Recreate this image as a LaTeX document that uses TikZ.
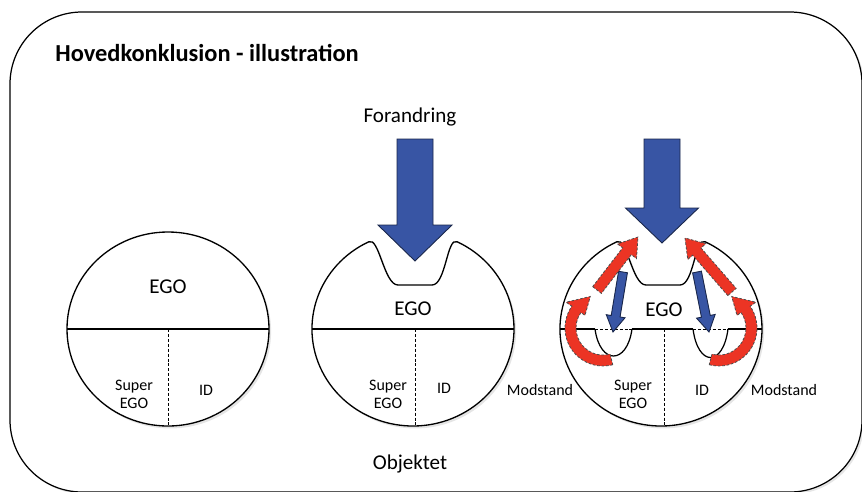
\documentclass[tikz,border=0pt]{standalone}
\usepackage{fontspec}
\setmainfont{Carlito}
\usepackage{xcolor}
\usetikzlibrary{calc,shadows}
\definecolor{forceblue}{RGB}{56,85,164}
\definecolor{resistred}{RGB}{236,52,36}
% block arrow: style, tail, tip, half shaft, half head, head length
\newcommand{\blockarrow}[6]{%
  \coordinate (ah) at ($(#3)!#6!(#2)$);
  \draw[#1] ($(#2)!#4!90:(#3)$) -- ($(ah)!#4!90:(#3)$) -- ($(ah)!#5!90:(#3)$) -- (#3)
    -- ($(ah)!#5!-90:(#3)$) -- ($(ah)!#4!-90:(#3)$) -- ($(#2)!#4!-90:(#3)$) -- cycle;}
\tikzset{
  frame/.style={draw, line width=0.7pt, rounded corners=1.44cm, fill=white, drop shadow={shadow xshift=1.2pt, shadow yshift=-1.2pt, opacity=0.2}},
  psyche/.style={draw, line width=0.75pt, fill=white, drop shadow={shadow xshift=1.2pt, shadow yshift=-1.4pt, opacity=0.2}},
  divide/.style={line width=0.85pt},
  split/.style={dash pattern=on 1.7pt off 1.1pt, line width=0.55pt},
  dent/.style={line width=0.7pt},
  force/.style={fill=forceblue, draw=forceblue!45!black, line width=0.5pt},
  resist/.style={fill=resistred, draw=black!70, dash pattern=on 1.5pt off 1pt, line width=0.45pt},
  title/.style={font=\fontsize{13.9pt}{16pt}\selectfont\bfseries, anchor=base west, inner sep=0pt},
  bigtext/.style={font=\fontsize{12pt}{14pt}\selectfont, anchor=base, inner sep=0pt},
  smalltext/.style={font=\fontsize{9.1pt}{10.25pt}\selectfont, anchor=base, inner sep=0pt}
}
\begin{document}
\begin{tikzpicture}[x=0.02cm,y=0.02cm]
  \useasboundingbox (0,0) rectangle (862,-491);
  \draw[frame] (10,-12) rectangle (862,-492);

  % plain psyche
  \draw[psyche] (168,-329) ellipse[x radius=101, y radius=97];
  \draw[divide] (67,-329) -- (269,-329);
  \draw[split] (168,-329) -- (168,-426);

  % psyche pressed by change
  \foreach \cx in {413,661}{
    \draw[psyche] (\cx-44.3,-241.8) arc[start angle=116, end angle=424, x radius=101, y radius=97]
      .. controls (\cx+34,-236) and (\cx+33,-285) .. (\cx+19,-285) -- (\cx-15,-285)
      .. controls (\cx-29,-285) and (\cx-34,-236) .. (\cx-44.3,-241.8) -- cycle;
  }
  \draw[divide] (312,-329) -- (514,-329);
  \draw[split] (415,-329) -- (415,-426);

  \draw[divide] (560,-329) -- (595,-329);
  \draw[split] (595,-329) -- (632,-329);
  \draw[divide] (632,-329) -- (693,-329);
  \draw[split] (693,-329) -- (728,-329);
  \draw[divide] (728,-329) -- (762,-329);
  \draw[split] (664,-329) -- (664,-426);
  \draw[dent] (595,-329) .. controls (600,-365) and (627,-365) .. (632,-329);
  \draw[dent] (693,-329) .. controls (698,-367) and (723,-367) .. (728,-329);

  % arrows
  \coordinate (lbtail) at (623,-272);
  \coordinate (lbtip) at (613,-332);
  \coordinate (rbtail) at (697,-272);
  \coordinate (rbtip) at (709,-332);
  \blockarrow{force}{lbtail}{lbtip}{0.09cm}{0.19cm}{0.32cm}
  \blockarrow{force}{rbtail}{rbtip}{0.09cm}{0.19cm}{0.32cm}

  \coordinate (lrtail) at (597,-290);
  \coordinate (lrtip) at (638,-237);
  \coordinate (rrtail) at (732,-292);
  \coordinate (rrtip) at (685,-238);
  \blockarrow{resist}{lrtail}{lrtip}{0.11cm}{0.24cm}{0.36cm}
  \blockarrow{resist}{rrtail}{rrtip}{0.11cm}{0.24cm}{0.36cm}

  \coordinate (lcurl) at (603,-328);
  \coordinate (rcurl) at (719,-328);
  \draw[resist] ($(lcurl)+(-75:38)$) arc[start angle=-75, end angle=-215, radius=38]
    -- ($(lcurl)+(145:45)$) -- ($(lcurl)+(112:34)$) -- ($(lcurl)+(145:22)$)
    -- ($(lcurl)+(145:27)$) arc[start angle=145, end angle=285, radius=27] -- cycle;
  \draw[resist] ($(rcurl)+(-105:38)$) arc[start angle=-105, end angle=35, radius=38]
    -- ($(rcurl)+(35:45)$) -- ($(rcurl)+(68:34)$) -- ($(rcurl)+(35:22)$)
    -- ($(rcurl)+(35:27)$) arc[start angle=35, end angle=-105, radius=27] -- cycle;

  \coordinate (mftail) at (415,-139);
  \coordinate (mftip) at (415,-261);
  \coordinate (rftail) at (662,-139);
  \coordinate (rftip) at (662,-243);
  \blockarrow{force}{mftail}{mftip}{0.36cm}{0.74cm}{0.72cm}
  \blockarrow{force}{rftail}{rftip}{0.36cm}{0.73cm}{0.70cm}

  % labels
  \node[title] (title) at (55,-61) {Hovedkonklusion - illustration};
  \node[bigtext] (forandring) at (410,-122) {Forandring};
  \node[bigtext] (objektet) at (410,-469) {Objektet};
  \node[bigtext] (ego1) at (168,-293) {EGO};
  \node[bigtext] (ego2) at (413,-315) {EGO};
  \node[bigtext] (ego3) at (664,-316) {EGO};
  \node[smalltext, anchor=north, align=center] (super1) at (134,-380) {Super\\EGO};
  \node[smalltext, anchor=north, align=center] (super2) at (388,-380) {Super\\EGO};
  \node[smalltext, anchor=north, align=center] (super3) at (633,-380) {Super\\EGO};
  \node[smalltext] (id1) at (206,-395) {ID};
  \node[smalltext] (id2) at (444,-393) {ID};
  \node[smalltext] (id3) at (702,-395) {ID};
  \node[smalltext] (modstand2) at (540,-395) {Modstand};
  \node[smalltext] (modstand3) at (784,-395) {Modstand};
\end{tikzpicture}
\end{document}
